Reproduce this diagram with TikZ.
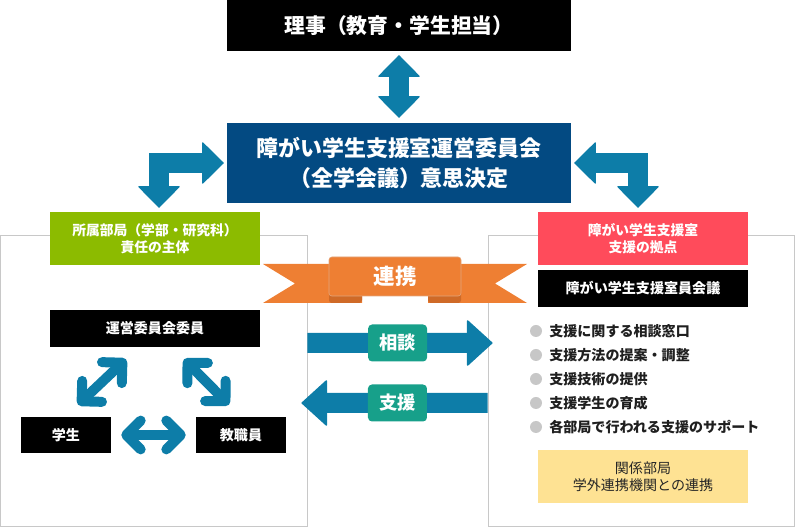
\documentclass[tikz,border=0pt]{standalone}
\usepackage{fontspec}
\setmainfont{Noto Sans CJK JP}
\usepackage{tikz}
\usetikzlibrary{positioning,arrows.meta,fit,calc}
\definecolor{ArrBlue}{HTML}{0D7DA8}
\definecolor{BoardBlue}{HTML}{034A82}
\definecolor{DeptGreen}{HTML}{8CBB00}
\definecolor{BaseRed}{HTML}{FF4B5B}
\definecolor{RibbonOrange}{HTML}{EE7F33}
\definecolor{RibbonDark}{HTML}{CF6A27}
\definecolor{TagTeal}{HTML}{17A08A}
\definecolor{NoteYellow}{HTML}{FEE293}
\definecolor{PanelGray}{HTML}{C8C8C8}

\begin{document}
\begin{tikzpicture}[
  box/.style    = {rectangle, inner sep=0pt, align=center, text=white},
  unit/.style   = {box, minimum width=5.25cm, minimum height=1.325cm, font=\fontsize{9.8}{12}\selectfont\bfseries},
  bar/.style    = {box, fill=black, minimum width=5.25cm, minimum height=0.925cm, font=\fontsize{10}{12}\selectfont\bfseries},
  panel/.style  = {draw=PanelGray, line width=0.6pt, inner sep=0pt},
  tag/.style    = {box, fill=TagTeal, rounded corners=0.1cm, minimum width=1.475cm, minimum height=0.925cm, font=\fontsize{13}{15}\selectfont\bfseries},
  dot/.style    = {circle, fill=black!22, minimum size=0.3cm, inner sep=0pt},
  item/.style   = {anchor=west, inner sep=0pt, text=black!88, font=\fontsize{10}{12}\selectfont\bfseries},
  bigarr/.style = {draw=ArrBlue, line width=0.5cm, >={Triangle[length=0.55cm,width=1.075cm,line width=1pt,round]}},
  flow/.style   = {bigarr, >={Triangle[length=0.65cm,width=1.175cm,line width=1pt,round]}},
  link/.style   = {draw=ArrBlue, line width=0.25cm, line cap=round, >={Straight Barb[length=0.36cm,width=0.72cm,round]}}
]
\useasboundingbox (0,0) rectangle (19.875,-13.175);

% Panels
\node[panel, fit={(0,-5.875) (7.675,-13.15)}] (lpanel) {};
\node[panel, fit={(12.2,-5.875) (19.85,-13.15)}] (rpanel) {};

% Top levels
\node[box, fill=black, minimum width=8.6cm, minimum height=1.275cm,
      font=\fontsize{14.8}{17}\selectfont\bfseries] (rector) at (9.975,-0.6375) {理事（教育・学生担当）};
\node[box, fill=BoardBlue, minimum width=8.6cm, minimum height=2cm,
      font=\fontsize{15.6}{21.3}\selectfont\bfseries] (steer) at (9.975,-4.075)
  {障がい学生支援室運営委員会\\（全学会議）意思決定};
\node[unit, fill=DeptGreen] (dept) at (3.875,-5.9625) {所属部局（学部・研究科）\\責任の主体};
\node[unit, fill=BaseRed] (base) at (16.075,-5.9625) {障がい学生支援室\\支援の拠点};

% Arrows between levels
\draw[bigarr,<->] ([yshift=-0.1cm]rector.south) -- ([yshift=0.125cm]steer.north);
\draw[bigarr,<->] ([shift={(0.1,0.1)}]dept.north) |- ([xshift=-0.075cm]steer.west);
\draw[bigarr,<->] ([shift={(-0.125,0.1)}]base.north) |- ([xshift=0.075cm]steer.east);

% Ribbon
\fill[RibbonOrange] (6.575,-6.6) -- (9.05,-6.6) -- (9.05,-7.575) -- (6.575,-7.575) -- (7.375,-7.0875) -- cycle;
\fill[RibbonOrange] (13.175,-6.6) -- (10.7,-6.6) -- (10.7,-7.575) -- (13.175,-7.575) -- (12.375,-7.0875) -- cycle;
\fill[RibbonDark, rounded corners=2pt] (8.225,-7.2) rectangle (9.05,-7.575);
\fill[RibbonDark, rounded corners=2pt] (10.7,-7.2) rectangle (11.525,-7.575);
\filldraw[fill=RibbonOrange, draw=RibbonDark!60, line width=0.4pt, rounded corners=2pt] (8.225,-6.425) rectangle (11.525,-7.4);
\node[text=white, font=\fontsize{15.3}{18}\selectfont\bfseries] (ribbon) at (9.875,-6.9) {連携};

% Consultation and support
\draw[flow,->] ([yshift=0.9375cm]lpanel.east) -- ([shift={(0.125,0.9375)}]rpanel.west)
  node[tag, pos=0.487] (consult) {相談};
\draw[flow,->] ([yshift=-0.5625cm]rpanel.west) -- ([shift={(-0.15,-0.5625)}]lpanel.east)
  node[tag, pos=0.484] (support) {支援};

% Left panel
\node[bar] (member) at (3.875,-8.2125) {運営委員会委員};
\node[bar, minimum width=2.25cm, minimum height=0.9cm] (student) at (1.65,-10.875) {学生};
\node[bar, minimum width=2.25cm, minimum height=0.9cm] (staff) at (6.025,-10.875) {教職員};
\draw[link,<->] ($(student.north)+(0.3,0.3)$) -- ($(member.south)+(-0.725,-0.3)$);
\draw[link,<->] ($(member.south)+(0.725,-0.3)$) -- ($(staff.north)+(-0.3,0.3)$);
\draw[link,<->] ([xshift=0.25cm]student.east) -- ([xshift=-0.25cm]staff.west);

% Right panel
\node[bar] (meeting) at (16.075,-7.2125) {障がい学生支援室員会議};
\foreach \i/\txt in {1/支援に関する相談窓口, 2/支援方法の提案・調整, 3/支援技術の提供,
                     4/支援学生の育成, 5/各部局で行われる支援のサポート}
{
  \node[dot] (dot\i) at (13.4,-8.275-0.6*\i+0.6) {};
  \node[item] (item\i) at (13.725,-8.275-0.6*\i+0.6) {\txt};
}
\node[unit, fill=NoteYellow, text=black!85, font=\fontsize{10}{12.5}\selectfont] (partner) at (16.075,-11.9125)
  {関係部局\\学外連携機関との連携};
\end{tikzpicture}
\end{document}
